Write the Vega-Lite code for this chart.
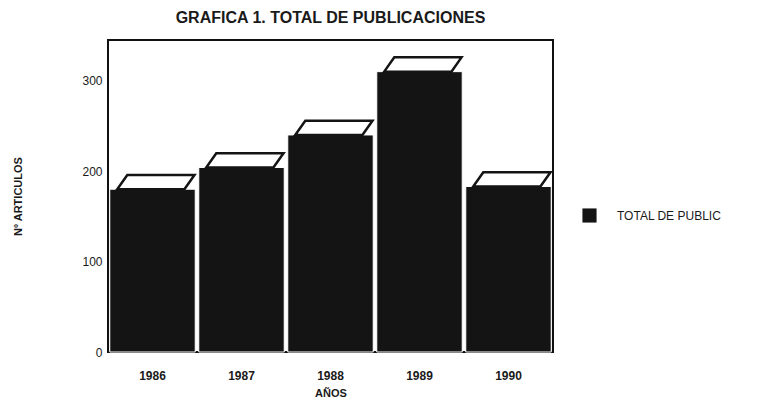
{
  "$schema": "https://vega.github.io/schema/vega-lite/v6.json",
  "width": 445,
  "height": 312,
  "autosize": {"type": "none"},
  "padding": {"left": 108, "top": 40, "right": 205, "bottom": 54},
  "background": "white",
  "title": {
    "text": "GRAFICA 1. TOTAL DE PUBLICACIONES",
    "font": "Liberation Sans",
    "fontSize": 16,
    "fontWeight": "bold",
    "color": "#1a1a1a",
    "anchor": "middle",
    "offset": 14
  },
  "config": {
    "view": {"stroke": "#111", "strokeWidth": 2},
    "axis": {"grid": false, "labelFont": "Liberation Sans", "titleFont": "Liberation Sans", "labelColor": "#1a1a1a", "titleColor": "#1a1a1a"}
  },
  "data": {
    "values": [
      {"year": "1986", "value": 180, "series": "TOTAL DE PUBLIC"},
      {"year": "1987", "value": 204, "series": "TOTAL DE PUBLIC"},
      {"year": "1988", "value": 240, "series": "TOTAL DE PUBLIC"},
      {"year": "1989", "value": 310, "series": "TOTAL DE PUBLIC"},
      {"year": "1990", "value": 183, "series": "TOTAL DE PUBLIC"}
    ]
  },
  "encoding": {
    "x": {
      "field": "year",
      "type": "nominal",
      "scale": {"paddingInner": 0.04, "paddingOuter": 0.02},
      "axis": {
        "title": "AÑOS",
        "titleFontSize": 11,
        "titleFontWeight": "bold",
        "titlePadding": 6,
        "labelAngle": 0,
        "labelFontSize": 12,
        "labelFontWeight": "bold",
        "labelPadding": 18,
        "ticks": false,
        "domain": false
      }
    },
    "y": {
      "field": "value",
      "type": "quantitative",
      "scale": {"domain": [0, 345], "nice": false},
      "axis": {
        "title": "Nº ARTICULOS",
        "titleFontSize": 11,
        "titleFontWeight": "bold",
        "titlePadding": 58,
        "values": [0, 100, 200, 300],
        "labelFontSize": 12,
        "labelPadding": 6,
        "ticks": false,
        "domain": false
      }
    }
  },
  "layer": [
    {
      "mark": {"type": "bar", "stroke": "white", "strokeWidth": 1},
      "encoding": {
        "color": {
          "field": "series",
          "type": "nominal",
          "scale": {"range": ["#141414"]},
          "legend": {
            "title": null,
            "orient": "none",
            "legendX": 474,
            "legendY": 168,
            "symbolType": "square",
            "symbolSize": 200,
            "symbolStrokeWidth": 0,
            "labelFont": "Liberation Sans",
            "labelFontSize": 12,
            "labelColor": "#1a1a1a",
            "labelOffset": 20
          }
        }
      }
    },
    {
      "mark": {
        "type": "point",
        "shape": "M -0.84 0 L 0.76 0 L 1 -0.34 L -0.6 -0.34 Z",
        "size": 7056,
        "filled": true,
        "fill": "white",
        "stroke": "#141414",
        "strokeWidth": 2.5,
        "opacity": 1
      }
    }
  ]
}
